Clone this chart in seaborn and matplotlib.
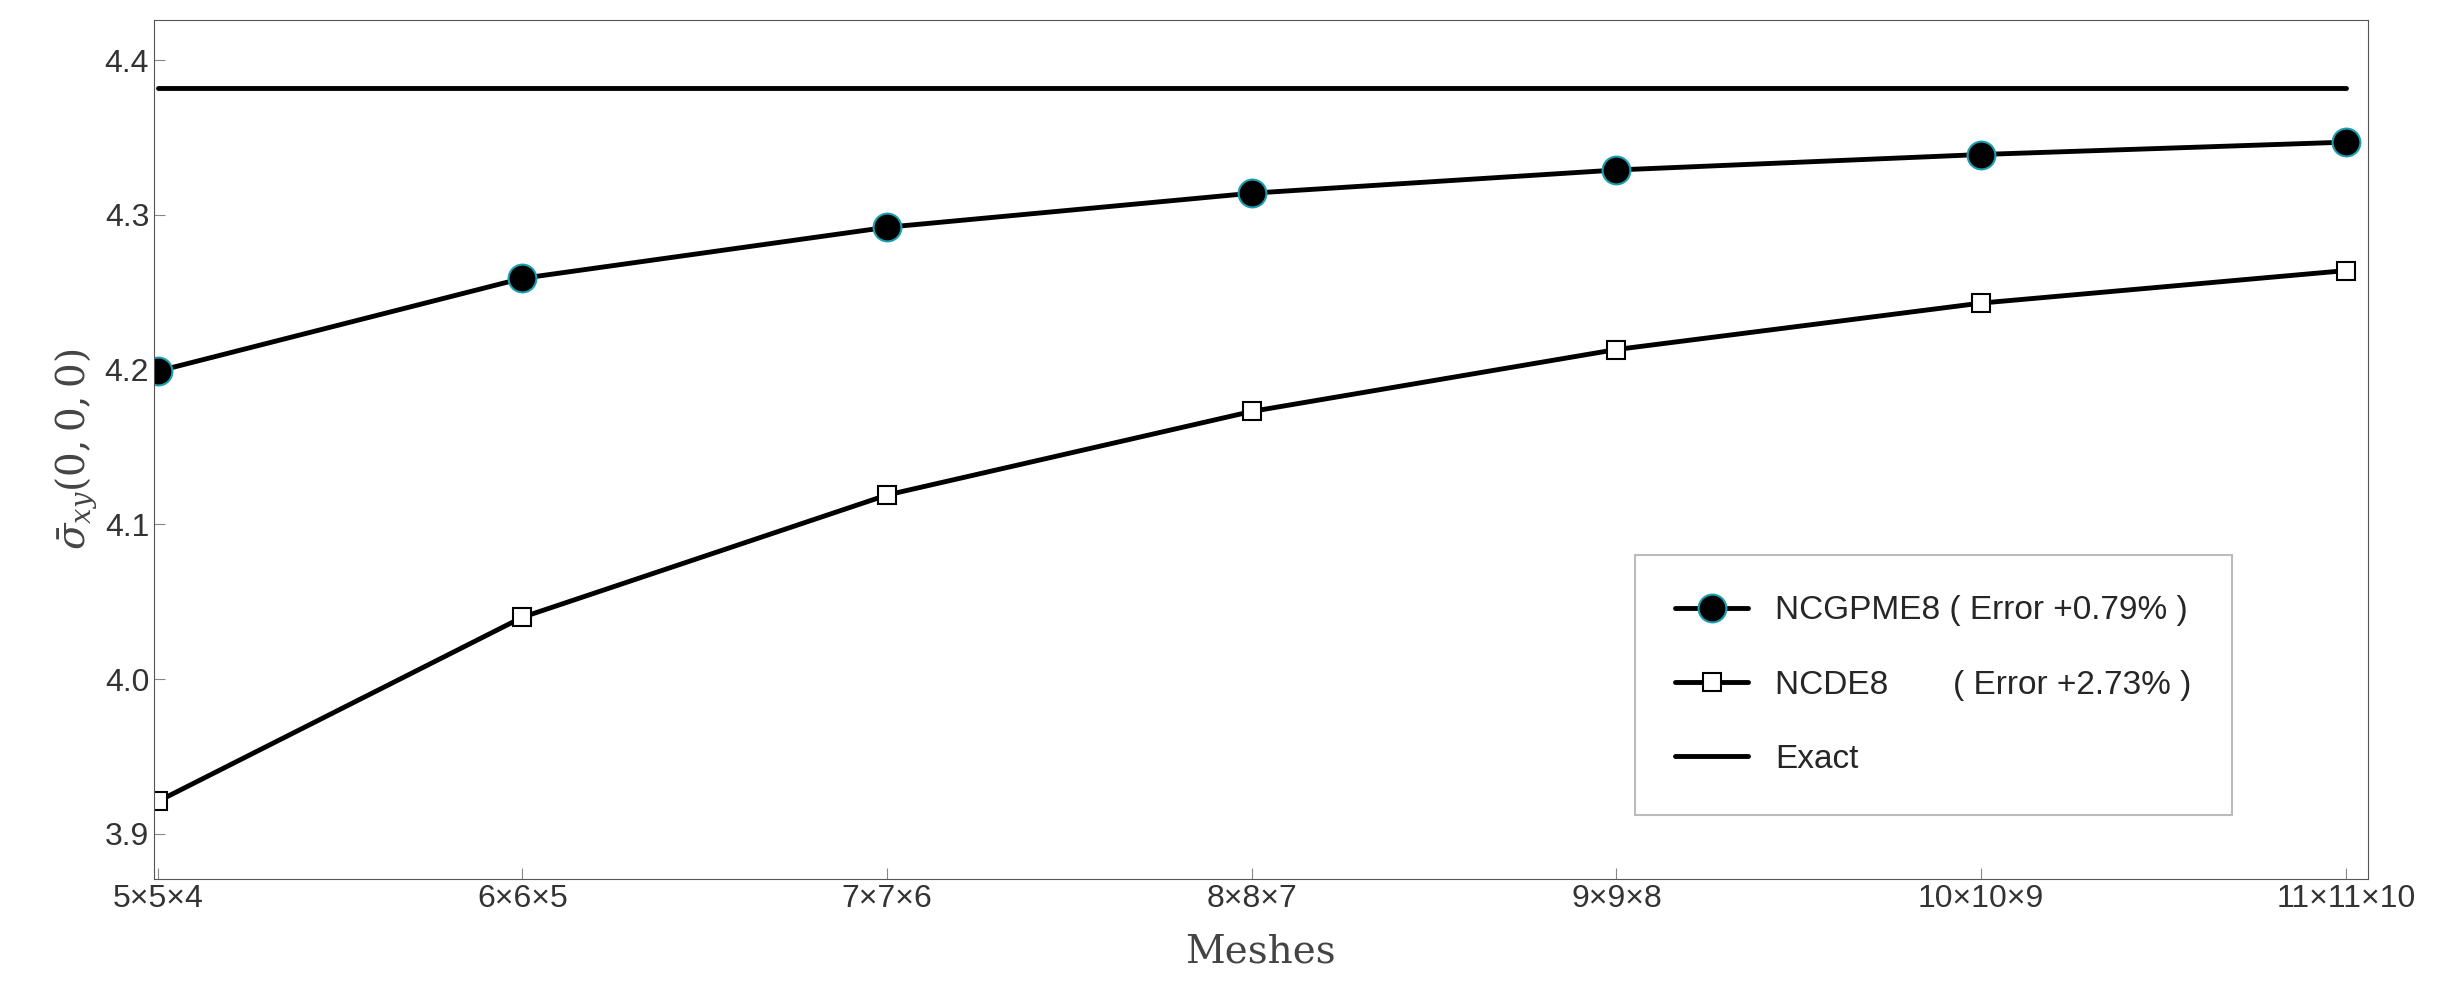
import matplotlib
matplotlib.use("Agg")
import matplotlib.pyplot as plt
import seaborn as sns
import pandas as pd

meshes = ["5×5×4", "6×6×5", "7×7×6", "8×8×7", "9×9×8", "10×10×9", "11×11×10"]
ncgpme8 = [4.199, 4.259, 4.292, 4.314, 4.329, 4.339, 4.347]
ncde8 = [3.921, 4.040, 4.119, 4.173, 4.213, 4.243, 4.264]
exact = 4.382

sns.set_style("ticks")
plt.rcParams['font.family'] = ['Liberation Sans', 'DejaVu Sans']
plt.rcParams['mathtext.fontset'] = 'dejavuserif'

fig, ax = plt.subplots(figsize=(24.46, 9.93), dpi=100)
fig.subplots_adjust(left=0.063, right=0.968, top=0.98, bottom=0.115)

x = list(range(len(meshes)))
df = pd.DataFrame({"x": x, "a": ncgpme8, "b": ncde8})

sns.lineplot(data=df, x="x", y="a", ax=ax, color="black", lw=3.5, marker="o",
             markersize=20, markerfacecolor="black", markeredgecolor="#1a9fb0",
             markeredgewidth=1.5, label="NCGPME8 ( Error +0.79% )")
sns.lineplot(data=df, x="x", y="b", ax=ax, color="black", lw=3.5, marker="s",
             markersize=13, markerfacecolor="white", markeredgecolor="black",
             markeredgewidth=1.5, label="NCDE8       ( Error +2.73% )")
ax.plot([x[0], x[-1]], [exact, exact], color="black", lw=3.5, label="Exact")

ax.set_xlim(-0.01, 6.06)
ax.set_ylim(3.871, 4.426)
ax.set_xticks(x)
ax.set_xticklabels(meshes)
ax.set_yticks([3.9, 4.0, 4.1, 4.2, 4.3, 4.4])
ax.tick_params(labelsize=23, direction="in", length=8, color="#888888", labelcolor="#333333")
for s in ax.spines.values():
    s.set_visible(True)
    s.set_color("#555555")
ax.set_xlabel("Meshes", fontsize=28, family="DejaVu Serif", color="#444444", labelpad=14)
ax.set_ylabel(r"$\bar{\sigma}_{xy}(0,0,0)$", fontsize=28, color="#444444")

leg = ax.legend(loc="lower right", bbox_to_anchor=(0.946, 0.055), fontsize=24,
                frameon=True, fancybox=False, edgecolor="#aaaaaa", borderpad=1.2,
                labelspacing=1.3, handlelength=2.2)
leg.get_frame().set_linewidth(1.5)

fig.savefig("out.png", dpi=100)
